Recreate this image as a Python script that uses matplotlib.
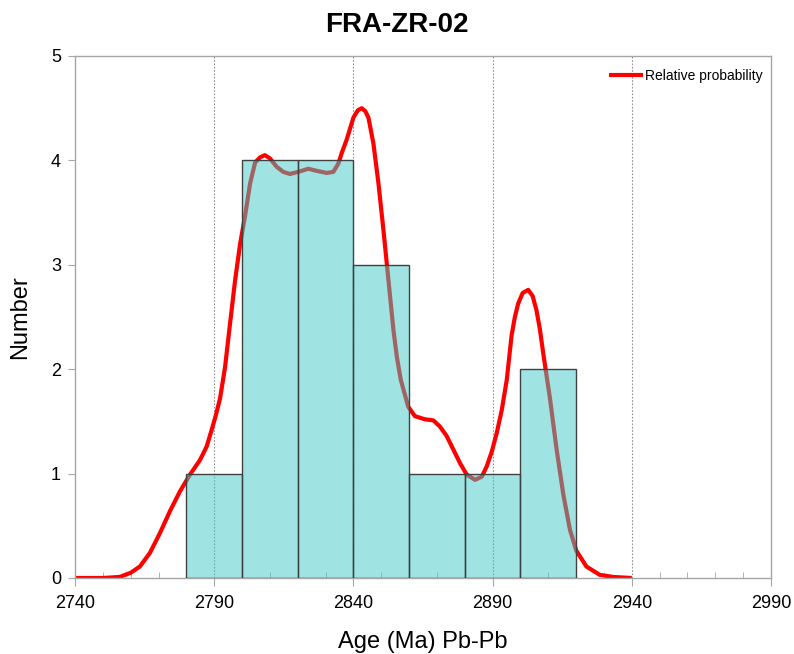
import matplotlib
matplotlib.use("Agg")
import matplotlib.pyplot as plt
from matplotlib.ticker import MultipleLocator

plt.rcParams['font.family'] = ['Liberation Sans', 'DejaVu Sans']

# Histogram data (bin edges in Ma, counts)
bin_left = [2780, 2800, 2820, 2840, 2860, 2880, 2900]
bin_width = 20
counts = [1, 4, 4, 3, 1, 1, 2]

# Relative probability curve
curve_x = [2740, 2750, 2756, 2760, 2763.3, 2766.9, 2770.5, 2774.1, 2777.7, 2781.3,
           2784.9, 2787.3, 2789.1, 2790.6, 2792.1, 2793.9, 2795.7, 2797.5, 2799.3,
           2801.1, 2802.9, 2804.7, 2806.5, 2808.2, 2810.0, 2812.4, 2814.8, 2817.2,
           2820.2, 2823.8, 2826.8, 2830.4, 2832.8, 2834.6, 2835.8, 2837.6, 2840.0,
           2841.6, 2843.0, 2844.3, 2845.4, 2847.2, 2849.0, 2850.8, 2852.6, 2854.4,
           2855.6, 2857.0, 2859.7,
           2862.1, 2865.7, 2868.7, 2871.1, 2873.5, 2875.9, 2878.3, 2880.7, 2883.7,
           2886.1, 2887.9, 2889.7, 2891.5, 2893.3, 2895.1, 2896.8, 2898.0, 2899.2,
           2900.8, 2902.8, 2904.4, 2905.8, 2907.0, 2908.2, 2910.6, 2913.0, 2915.4,
           2917.8, 2920.1, 2923.7, 2928.5, 2933.3, 2940]
curve_y = [0.0, 0.0, 0.01, 0.05, 0.11, 0.24, 0.43, 0.64, 0.83, 0.99,
           1.13, 1.26, 1.42, 1.56, 1.72, 2.02, 2.44, 2.85, 3.2,
           3.47, 3.78, 3.98, 4.03, 4.05, 4.02, 3.94, 3.89, 3.87,
           3.89, 3.92, 3.90, 3.88, 3.89, 3.97, 4.07, 4.2, 4.41,
           4.48, 4.50, 4.47, 4.41, 4.16, 3.78, 3.33, 2.85, 2.37,
           2.12, 1.9, 1.64,
           1.55, 1.52, 1.51, 1.45, 1.36, 1.23, 1.10, 0.99, 0.94,
           0.97, 1.07, 1.21, 1.39, 1.61, 1.9, 2.32, 2.50, 2.63,
           2.73, 2.76, 2.70, 2.56, 2.38, 2.15, 1.72, 1.23, 0.80,
           0.46, 0.26, 0.11, 0.03, 0.01, 0.0]

x_ticks = [2740, 2790, 2840, 2890, 2940, 2990]
y_ticks = [0, 1, 2, 3, 4, 5]

fig = plt.figure(figsize=(7.94, 6.54), dpi=100)
ax = fig.add_axes([75/794, 1-578/654, (771-75)/794, (578-56)/654])

ax.plot(curve_x, curve_y, color='#ff0000', lw=3.0, zorder=2, label='Relative probability',
        solid_joinstyle='round', solid_capstyle='butt')
ax.bar(bin_left, counts, width=bin_width, align='edge',
       facecolor=(64/255, 200/255, 200/255, 0.5), edgecolor='#404040', lw=1.0, zorder=3)

ax.set_xlim(2740, 2990)
ax.set_ylim(0, 5)
ax.set_xticks(x_ticks)
ax.set_yticks(y_ticks)
ax.xaxis.set_minor_locator(MultipleLocator(10))

for s in ax.spines.values():
    s.set_color('#a6a6a6')
    s.set_linewidth(1.0)

ax.tick_params(axis='x', which='major', direction='out', length=6, color='#a6a6a6',
               labelsize=13, pad=6)
ax.tick_params(axis='x', which='minor', direction='in', length=4, color='#a6a6a6')
ax.tick_params(axis='y', which='major', direction='out', length=5, color='#a6a6a6',
               labelsize=13, pad=5)

for xv in x_ticks[1:-1]:
    ax.axvline(xv, color='#909090', lw=0.8, ls=(0, (1.5, 1.5)), zorder=1)

ax.set_xlabel('Age (Ma) Pb-Pb', fontsize=17, labelpad=14)
ax.set_ylabel('Number', fontsize=17, labelpad=14)
fig.text(0.5, 1-32/654, 'FRA-ZR-02', fontsize=20, fontweight='bold',
         ha='center', va='baseline')

leg = ax.legend(loc='upper right', frameon=False, fontsize=10, handlelength=2.45,
                handletextpad=0.15, bbox_to_anchor=(1.0, 0.992), borderaxespad=0.2)

fig.savefig('out.png', dpi=100)
